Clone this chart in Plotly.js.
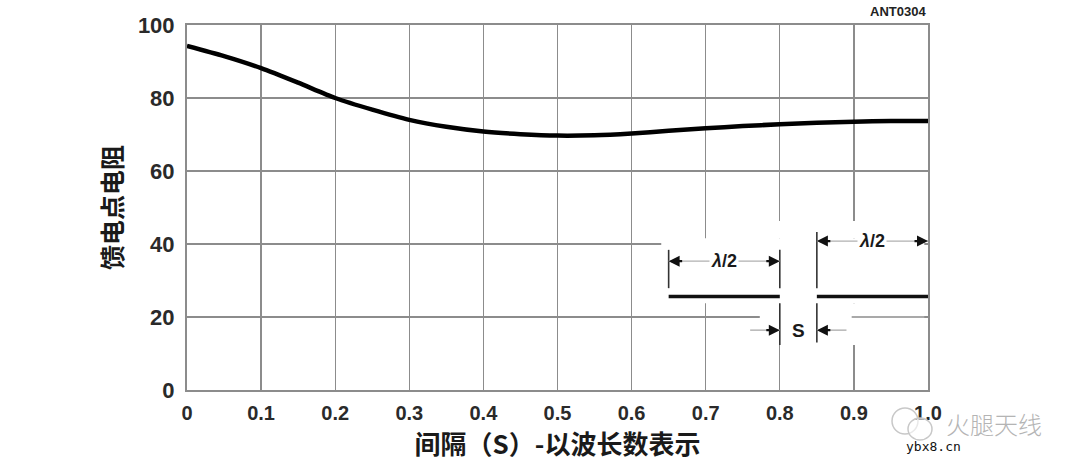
<!DOCTYPE html>
<html>
<head>
<meta charset="utf-8">
<script src="https://cdn.plot.ly/plotly-3.0.1.min.js"></script>
<style>html,body{margin:0;padding:0;background:#fff;}#chart{width:1080px;height:474px;}</style>
</head>
<body>
<div id="chart"></div>
<script>
// Spacing S in wavelengths
const spacing = [0, 0.05, 0.1, 0.15, 0.2, 0.25, 0.3, 0.35, 0.4, 0.45, 0.5, 0.55, 0.6, 0.65, 0.7, 0.75, 0.8, 0.85, 0.9, 0.95, 1.0];
// Feed-point resistance (ohms)
const resistance = [94.3, 91.5, 88.2, 84.2, 80.0, 76.8, 74.0, 72.1, 70.8, 70.1, 69.7, 69.8, 70.3, 71.0, 71.7, 72.3, 72.8, 73.2, 73.5, 73.7, 73.7];
const xTickVals = [0, 0.1, 0.2, 0.3, 0.4, 0.5, 0.6, 0.7, 0.8, 0.9, 1.0];
const xTickText = ['0', '0.1', '0.2', '0.3', '0.4', '0.5', '0.6', '0.7', '0.8', '0.9', '1.0'];
const yTickVals = [0, 20, 40, 60, 80, 100];
const yTickText = ['0', '20', '40', '60', '80', '100'];
const xTitle = '间隔（S）-以波长数表示';
const yTitle = '馈电点电阻';
const figId = 'ANT0304';

const gridColor = '#8c8c8c';
const dark = '#1a1a1a';
const latin = 'Liberation Sans, Arial, sans-serif';
const cjk = 'Noto Sans CJK SC, sans-serif';

const trace = {
  x: spacing, y: resistance, type: 'scatter', mode: 'lines',
  line: {color: '#000', width: 4.5, shape: 'spline', smoothing: 0.7},
  hoverinfo: 'skip', showlegend: false
};

function whiteRect(x0, x1, y0, y1) {
  return {type: 'rect', xref: 'x', yref: 'y', x0: x0, x1: x1, y0: y0, y1: y1,
    fillcolor: '#fff', line: {width: 0}, layer: 'between'};
}
function seg(x0, y0, x1, y1, color, width) {
  return {type: 'line', xref: 'x', yref: 'y', x0: x0, y0: y0, x1: x1, y1: y1,
    line: {color: color, width: width}, layer: 'above'};
}
function arrowHead(x, y, dir) {
  return {x: x, y: y, xref: 'x', yref: 'y', text: '', showarrow: true,
    ax: dir === 'left' ? 15 : -15, ay: 0, arrowhead: 2, arrowsize: 1, arrowwidth: 2.2,
    arrowcolor: '#111', standoff: 0, startstandoff: 0};
}
function label(x, y, txt, size) {
  return {x: x, y: y, xref: 'x', yref: 'y', text: txt, showarrow: false,
    font: {family: latin, size: size, color: dark, weight: 'bold'}, bgcolor: '#fff',
    borderpad: 1, xanchor: 'center', yanchor: 'middle'};
}

const shapes = [
  whiteRect(0.64, 0.995, 23.8, 41.6),
  whiteRect(0.72, 0.995, 41.6, 46.3),
  whiteRect(0.773, 0.995, 12.3, 23.8),
  // restore grid segment under the inset
  seg(0.897, 20, 0.997, 20, gridColor, 1.4),
  // left element dimension
  seg(0.65, 27.9, 0.65, 38.4, '#333', 1.6),
  seg(0.80, 27.9, 0.80, 38.4, '#333', 1.6),
  seg(0.65, 35.3, 0.80, 35.3, '#b0b0b0', 1.4),
  seg(0.65, 25.6, 0.80, 25.6, '#111', 3.5),
  // right element dimension
  seg(0.85, 27.9, 0.85, 43.3, '#333', 1.6),
  seg(0.85, 40.8, 1.0, 40.8, '#b0b0b0', 1.4),
  seg(0.85, 25.6, 1.0, 25.6, '#111', 3.5),
  // gap S
  seg(0.80, 12.3, 0.80, 23.8, '#333', 1.6),
  seg(0.85, 13.0, 0.85, 23.8, '#333', 1.6),
  seg(0.76, 16.4, 0.80, 16.4, '#b0b0b0', 1.4),
  seg(0.85, 16.4, 0.89, 16.4, '#b0b0b0', 1.4),
  // watermark icon
  {type: 'circle', xref: 'paper', yref: 'paper', x0: (892-187)/741, x1: (918-187)/741, y0: (390-434)/365, y1: (390-408)/365,
    line: {color: '#c8c8c8', width: 1.5}, fillcolor: 'rgba(0,0,0,0)', layer: 'above'},
  {type: 'circle', xref: 'paper', yref: 'paper', x0: (908-187)/741, x1: (932-187)/741, y0: (390-440)/365, y1: (390-418)/365,
    line: {color: '#c8c8c8', width: 1.5}, fillcolor: 'rgba(255,255,255,0.6)', layer: 'above'}
];

const annotations = [
  arrowHead(0.65, 35.3, 'left'),
  arrowHead(0.80, 35.3, 'right'),
  arrowHead(0.85, 40.8, 'left'),
  arrowHead(1.0, 40.8, 'right'),
  arrowHead(0.80, 16.4, 'right'),
  arrowHead(0.85, 16.4, 'left'),
  label(0.725, 35.3, '<i>λ</i>/2', 18),
  label(0.924, 40.8, '<i>λ</i>/2', 18),
  {x: 0.825, y: 16.4, xref: 'x', yref: 'y', text: 'S', showarrow: false,
    font: {family: latin, size: 19, color: dark, weight: 'bold'}},
  {x: 1.0, y: 1.0, xref: 'paper', yref: 'paper', yshift: 14, text: figId, showarrow: false,
    xanchor: 'right', yanchor: 'middle',
    font: {family: 'Liberation Sans Narrow, Liberation Sans, Arial, sans-serif', size: 13, color: '#222', weight: 'bold'}},
  {x: (994-187)/741, y: (390-423)/365, xref: 'paper', yref: 'paper', text: '火腿天线', showarrow: false,
    xanchor: 'center', yanchor: 'middle', font: {family: cjk, size: 24, color: '#b4b4b4', weight: 300}},
  {x: (933-187)/741, y: (390-447)/365, xref: 'paper', yref: 'paper', text: 'ybx8.cn', showarrow: false,
    xanchor: 'center', yanchor: 'middle', font: {family: 'DejaVu Sans Mono, monospace', size: 13, color: '#111'}}
];

const layout = {
  width: 1080, height: 474,
  margin: {l: 187, r: 152, t: 25, b: 84, pad: 0},
  paper_bgcolor: '#fff', plot_bgcolor: '#fff',
  showlegend: false,
  xaxis: {
    range: [0, 1], tickvals: xTickVals, ticktext: xTickText, ticks: '',
    showgrid: true, gridcolor: gridColor, gridwidth: 1.4, zeroline: false,
    showline: true, linecolor: gridColor, linewidth: 2, mirror: true,
    tickfont: {family: latin, size: 20, color: '#2a2a2a', weight: 'bold'},
    ticklabelstandoff: 4,
    title: {text: xTitle, font: {family: cjk, size: 26, color: '#1a1a1a', weight: 700}, standoff: 10}
  },
  yaxis: {
    range: [0, 100], tickvals: yTickVals, ticktext: yTickText, ticks: '',
    showgrid: true, gridcolor: gridColor, gridwidth: 1.4, zeroline: false,
    showline: true, linecolor: gridColor, linewidth: 2, mirror: true,
    tickfont: {family: latin, size: 22, color: '#2a2a2a', weight: 'bold'},
    ticklabelstandoff: 6,
    title: {text: yTitle, font: {family: cjk, size: 25, color: '#1a1a1a', weight: 700}, standoff: 8}
  },
  shapes: shapes,
  annotations: annotations
};

Plotly.newPlot('chart', [trace], layout, {staticPlot: true, displayModeBar: false});
</script>
</body>
</html>
